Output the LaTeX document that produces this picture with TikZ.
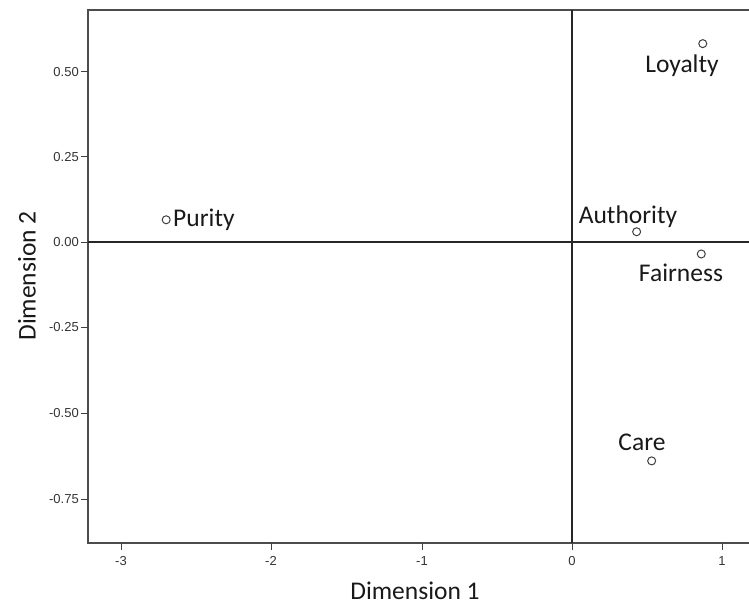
\documentclass[tikz,border=0pt]{standalone}
\usepackage{fontspec}
\setmainfont{Carlito}
\newfontfamily\ticksfont{Liberation Sans}
\begin{document}
\begin{tikzpicture}[x=1bp,y=-1bp,
  frameline/.style={draw=black!70,line width=1.4bp},
  axisline/.style={draw=black!85,line width=1.2bp},
  tickline/.style={draw=black!75,line width=1bp},
  ticklabel/.style={font=\ticksfont\fontsize{13bp}{15bp}\selectfont,text=black!80,inner sep=0pt},
  pointmark/.style={circle,draw=black!75,fill=white,line width=1bp,minimum size=8bp,inner sep=0pt},
  pointlabel/.style={font=\fontsize{25.5bp}{29bp}\selectfont,text=black!90,inner sep=0pt},
  axistitle/.style={font=\fontsize{25.5bp}{29bp}\selectfont,text=black!90,inner sep=0pt}]
\useasboundingbox (0,0) rectangle (749,606);
% plot frame (open on the right)
\draw[frameline] (749,10) -- (88,10) -- (88,543) -- (749,543);
% y ticks and labels
\foreach \v/\yy in {0.50/72,0.25/157,0.00/242,-0.25/327,-0.50/413,-0.75/499}{
  \draw[tickline] (81,\yy) -- (88,\yy);
  \node[ticklabel,anchor=east] at (79,\yy) {\v};
}
% x ticks and labels
\foreach \v/\xx in {-3/121,-2/271,-1/422,0/572,1/722}{
  \draw[tickline] (\xx,543) -- (\xx,550);
  \node[ticklabel,anchor=north] at (\xx,556) {\v};
}
% reference axes through the origin
\draw[axisline] (572,10) -- (572,543);
\draw[axisline] (88,242) -- (749,242);
% stimulus points in data coordinates
\begin{scope}[shift={(572,242)},x=150.3bp,y=342bp]
  \node[pointmark] (loy) at (0.87,0.58) {};
  \node[pointmark] (aut) at (0.43,0.03) {};
  \node[pointmark] (fai) at (0.86,-0.035) {};
  \node[pointmark] (pur) at (-2.70,0.065) {};
  \node[pointmark] (car) at (0.53,-0.64) {};
\end{scope}
\node[pointlabel] (loyl) at (682,66) {Loyalty};
\node[pointlabel] (autl) at (628,217) {Authority};
\node[pointlabel] (fail) at (681,273) {Fairness};
\node[pointlabel,anchor=west] (purl) at (173,220) {Purity};
\node[pointlabel] (carl) at (642,442) {Care};
% axis titles
\node[axistitle] (xt) at (415,591) {Dimension 1};
\node[axistitle,rotate=90] (yt) at (27,276) {Dimension 2};
\end{tikzpicture}
\end{document}
